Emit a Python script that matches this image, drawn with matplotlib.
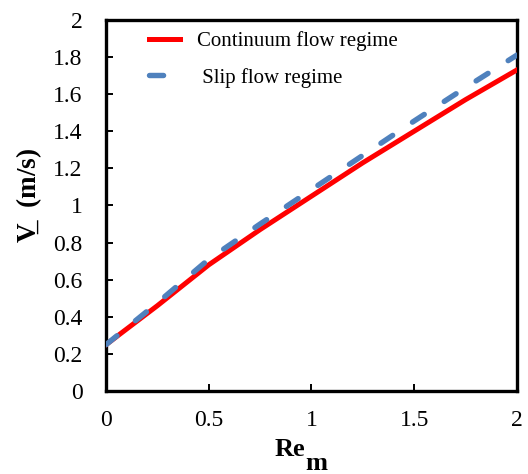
import matplotlib
matplotlib.use('Agg')
import matplotlib.pyplot as plt

plt.rcParams['font.family'] = ['Liberation Serif', 'DejaVu Serif']
plt.rcParams['mathtext.fontset'] = 'custom'
plt.rcParams['mathtext.rm'] = 'Liberation Serif:bold'
plt.rcParams['mathtext.bf'] = 'Liberation Serif:bold'
plt.rcParams['mathtext.it'] = 'Liberation Serif:italic'

# Re_m values and velocity for both regimes
re_m = [0.0, 0.25, 0.5, 0.75, 1.0, 1.25, 1.5, 1.75, 2.0]
v_continuum = [0.25, 0.46, 0.68, 0.87, 1.05, 1.23, 1.40, 1.57, 1.73]
v_slip = [0.25, 0.475, 0.71, 0.90, 1.085, 1.27, 1.455, 1.635, 1.81]

xticks = [0, 0.5, 1, 1.5, 2]
xticklabels = ['0', '0.5', '1', '1.5', '2']
yticks = [0, 0.2, 0.4, 0.6, 0.8, 1, 1.2, 1.4, 1.6, 1.8, 2]
yticklabels = ['0', '0.2', '0.4', '0.6', '0.8', '1', '1.2', '1.4', '1.6', '1.8', '2']

fig = plt.figure(figsize=(5.28, 4.74), dpi=100)
ax = fig.add_axes([0.2008, 0.175, 0.778, 0.783])

ax.plot(re_m, v_continuum, '-', color='#FF0000', linewidth=3.6,
        label='Continuum flow regime', zorder=3)
ax.plot(re_m, v_slip, '--', color='#4F81BD', linewidth=3.9,
        dashes=(2.6, 4.4), dash_capstyle='round',
        label=' Slip flow regime', zorder=4)

ax.set_xlim(0, 2)
ax.set_ylim(0, 2)
ax.set_xticks(xticks)
ax.set_xticklabels(xticklabels)
ax.set_yticks(yticks)
ax.set_yticklabels(yticklabels)

for sp in ax.spines.values():
    sp.set_linewidth(2.4)
    sp.set_color('black')

ax.tick_params(axis='both', direction='in', length=5, width=1.4,
               labelsize=17, top=False, right=False)
ax.tick_params(axis='x', pad=14)
ax.tick_params(axis='y', pad=17)

# x label: "Re" with a large subscript "m"
fig.text(305 / 528, 1 - 456 / 474, 'Re', ha='right', va='baseline',
         fontsize=19, fontweight='bold')
fig.text(305 / 528, 1 - 470 / 474, 'm', ha='left', va='baseline',
         fontsize=19, fontweight='bold')

ax.set_ylabel(r'$\mathbf{V}\!\!\!\_\;$ (m/s)', fontsize=19.5,
              fontweight='bold')
ax.yaxis.set_label_coords(-0.15, 0.528)

ax.legend(loc='upper left', bbox_to_anchor=(0.06, 1.02), frameon=False,
          fontsize=15, handlelength=1.45, handletextpad=0.85,
          labelspacing=0.8)

fig.savefig('out.png', dpi=100)
